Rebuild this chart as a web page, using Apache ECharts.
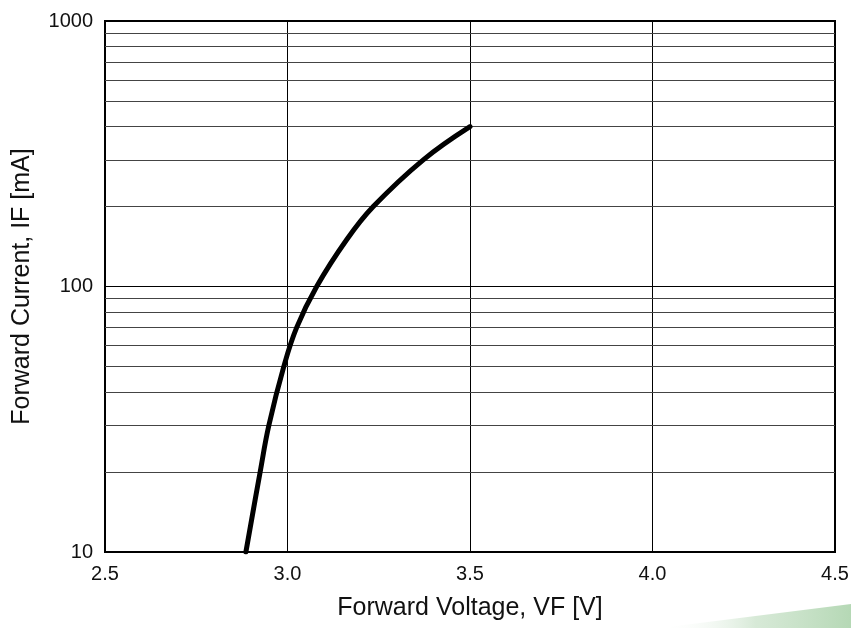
<!DOCTYPE html>
<html>
<head>
<meta charset="utf-8">
<script src="https://cdn.jsdelivr.net/npm/echarts@6/dist/echarts.min.js"></script>
<style>
  html, body { margin: 0; padding: 0; background: #fff; }
  #main { width: 851px; height: 628px; }
</style>
</head>
<body>
<div id="main"></div>
<script>
// 数据: 正向电压 / 正向电流
var voltage = [2.886, 2.925, 2.949, 2.990, 3.025, 3.080, 3.162, 3.235, 3.372, 3.5];
var current = [10, 20, 30, 50, 70, 100, 150, 200, 300, 400];
// 对数坐标的次网格线
var minorLines = [20, 30, 40, 50, 60, 70, 80, 90, 200, 300, 400, 500, 600, 700, 800, 900];

var font = 'Liberation Sans, Arial, sans-serif';

function getPoints(xs, ys) {
    var pts = [];
    for (var i = 0; i < xs.length; i++) {
        pts.push([xs[i], ys[i]]);
    }
    return pts;
}

function getMinorData(values) {
    var arr = [];
    for (var i = 0; i < values.length; i++) {
        arr.push({yAxis: values[i]});
    }
    return arr;
}

var myChart = echarts.init(document.getElementById('main'));
var option = {
    animation: false,
    backgroundColor: '#fff',
    grid: {
        left: 105, right: 16, top: 21, bottom: 76,
        show: true, borderColor: '#000', borderWidth: 2,
        containLabel: false,
        outerBoundsMode: 'none'
    },
    xAxis: {
        type: 'value',
        min: 2.5, max: 4.5, interval: 0.5,
        name: 'Forward Voltage, VF [V]',
        nameLocation: 'middle',
        nameGap: 44,
        nameTextStyle: {fontFamily: font, fontSize: 25, color: '#111'},
        axisLine: {show: false},
        axisTick: {show: false},
        axisLabel: {
            margin: 12, fontFamily: font, fontSize: 20, color: '#111',
            formatter: function (v) { return v.toFixed(1); }
        },
        splitLine: {show: true, lineStyle: {color: '#000', width: 1}}
    },
    yAxis: {
        type: 'log',
        logBase: 10,
        min: 10, max: 1000,
        name: 'Forward Current, IF [mA]',
        nameLocation: 'middle',
        nameGap: 70,
        nameTextStyle: {fontFamily: font, fontSize: 25, color: '#111'},
        axisLine: {show: false},
        axisTick: {show: false},
        axisLabel: {
            margin: 12, fontFamily: font, fontSize: 20, color: '#111',
            formatter: function (v) { return String(v); }
        },
        splitLine: {show: true, lineStyle: {color: '#000', width: 1}}
    },
    series: [
        {
            type: 'line',
            data: [],
            silent: true,
            z: 1,
            markLine: {
                silent: true,
                symbol: ['none', 'none'],
                label: {show: false},
                lineStyle: {type: 'solid', color: '#444', width: 1},
                emphasis: {disabled: true},
                data: getMinorData(minorLines)
            }
        },
        {
            type: 'line',
            data: getPoints(voltage, current),
            smooth: 0.4,
            showSymbol: false,
            z: 5,
            lineStyle: {color: '#000', width: 5, cap: 'round', join: 'round'}
        }
    ],
    graphic: [
        {
            type: 'polygon',
            silent: true,
            z: -1,
            shape: {points: [[660, 628], [851, 604], [851, 628]]},
            style: {
                fill: new echarts.graphic.LinearGradient(0, 0, 1, 0, [
                    {offset: 0, color: 'rgba(255,255,255,0)'},
                    {offset: 0.5, color: 'rgba(205,228,205,0.8)'},
                    {offset: 1, color: '#b5d8b5'}
                ])
            }
        }
    ]
};

myChart.setOption(option);
</script>
</body>
</html>
